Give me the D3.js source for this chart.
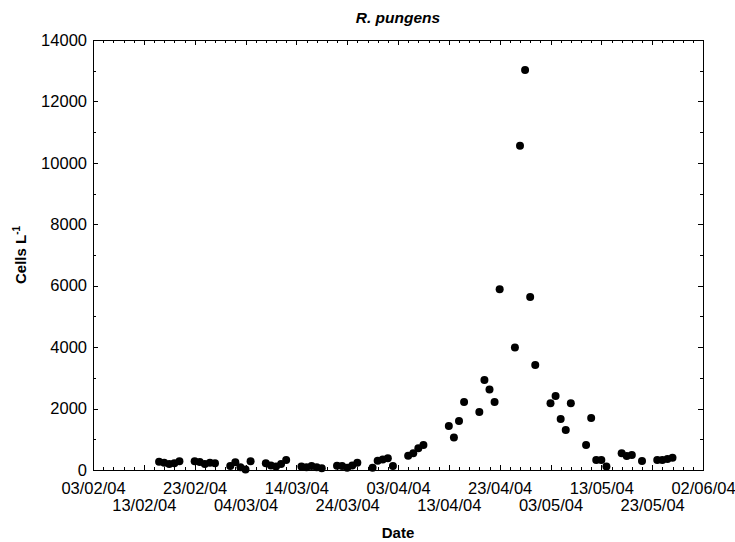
<!DOCTYPE html>
<html>
<head>
<meta charset="utf-8">
<script src="https://cdn.jsdelivr.net/npm/d3@7"></script>
<style>
  html, body { margin: 0; padding: 0; background: #fff; }
  svg { display: block; }
  text { font-family: "Liberation Sans", Arial, sans-serif; }
</style>
</head>
<body>
<svg id="chart" width="735" height="542"></svg>
<script>
// ---- data ----
const sampleDates = [
  "16/02/04","17/02/04","18/02/04","19/02/04","20/02/04",
  "23/02/04","24/02/04","25/02/04","26/02/04","27/02/04",
  "01/03/04","02/03/04","03/03/04","04/03/04","05/03/04",
  "08/03/04","09/03/04","10/03/04","11/03/04","12/03/04",
  "15/03/04","16/03/04","17/03/04","18/03/04","19/03/04",
  "22/03/04","23/03/04","24/03/04","25/03/04","26/03/04",
  "29/03/04","30/03/04","31/03/04","01/04/04","02/04/04",
  "05/04/04","06/04/04","07/04/04","08/04/04",
  "13/04/04","14/04/04","15/04/04","16/04/04",
  "19/04/04","20/04/04","21/04/04","22/04/04","23/04/04",
  "26/04/04","27/04/04","28/04/04","29/04/04","30/04/04",
  "03/05/04","04/05/04","05/05/04","06/05/04","07/05/04",
  "10/05/04","11/05/04","12/05/04","13/05/04","14/05/04",
  "17/05/04","18/05/04","19/05/04","21/05/04",
  "24/05/04","25/05/04","26/05/04","27/05/04"
];
const cellsPerL = [
  270, 240, 195, 220, 285,
  285, 260, 195, 240, 220,
  130, 250, 90, 20, 285,
  220, 150, 110, 195, 325,
  110, 90, 130, 90, 55,
  140, 130, 75, 150, 240,
  75, 305, 345, 380, 130,
  460, 545, 705, 815,
  1435, 1055, 1595, 2215,
  1890, 2930, 2625, 2215, 5885,
  3985, 10560, 13025, 5635, 3420,
  2170, 2410, 1660, 1300, 2170,
  815, 1695, 325, 325, 110,
  545, 455, 490, 295,
  325, 325, 360, 400
];
const xTickLabels = ["03/02/04","13/02/04","23/02/04","04/03/04","14/03/04","24/03/04",
  "03/04/04","13/04/04","23/04/04","03/05/04","13/05/04","23/05/04","02/06/04"];
const yTickValues = [0, 2000, 4000, 6000, 8000, 10000, 12000, 14000];
const titleText = "R. pungens";
const xTitle = "Date";
const yTitle = "Cells L";

// ---- layout ----
const parse = d3.utcParse("%d/%m/%y");
const fmt = d3.utcFormat("%d/%m/%y");
const W = 735, H = 542;
const m = { left: 93, right: 32, top: 40, bottom: 72 };
const iw = W - m.left - m.right, ih = H - m.top - m.bottom;
const tickFont = 16.5;

const svg = d3.select("#chart");
const g = svg.append("g").attr("transform", `translate(${m.left},${m.top})`);

const xDomain = [parse(xTickLabels[0]), parse(xTickLabels[xTickLabels.length - 1])];
const x = d3.scaleUtc().domain(xDomain).range([0, iw]);
const y = d3.scaleLinear().domain([0, 14000]).range([ih, 0]);

const xMajor = xTickLabels.map(parse);
const xMinor = d3.utcDay.range(xDomain[0], d3.utcDay.offset(xDomain[1], 1))
  .filter(d => d3.utcDay.count(xDomain[0], d) % 2 === 0);
const yMinor = d3.range(0, 14001, 1000);

// ticks (inward) on all four sides
function ticksAxis(axisGen, transform, vals, len) {
  const a = g.append("g").attr("transform", transform)
    .call(axisGen.tickValues(vals).tickSize(len).tickFormat(""));
  a.select(".domain").remove();
  a.selectAll("line").attr("stroke", "#000").attr("shape-rendering", "crispEdges");
  return a;
}
ticksAxis(d3.axisTop(x), `translate(0,${ih})`, xMinor, 3);
ticksAxis(d3.axisBottom(x), `translate(0,0)`, xMinor, 3);
ticksAxis(d3.axisRight(y), `translate(0,0)`, yMinor, 3);
ticksAxis(d3.axisLeft(y), `translate(${iw},0)`, yMinor, 3);
ticksAxis(d3.axisTop(x), `translate(0,${ih})`, xMajor, 5);
ticksAxis(d3.axisBottom(x), `translate(0,0)`, xMajor, 5);
ticksAxis(d3.axisRight(y), `translate(0,0)`, yTickValues, 5);
ticksAxis(d3.axisLeft(y), `translate(${iw},0)`, yTickValues, 5);

// frame
g.append("rect").attr("x", 0).attr("y", 0).attr("width", iw).attr("height", ih)
  .attr("fill", "none").attr("stroke", "#000").attr("stroke-width", 1)
  .attr("shape-rendering", "crispEdges");

// x tick labels (staggered)
const xl = g.append("g").attr("transform", `translate(0,${ih})`)
  .call(d3.axisBottom(x).tickValues(xMajor).tickSize(0).tickFormat(d => fmt(d)));
xl.select(".domain").remove();
xl.selectAll("text")
  .attr("y", (d, i) => i % 2 === 0 ? 24 : 41)
  .attr("dy", 0)
  .attr("font-size", tickFont)
  .attr("font-family", "'Liberation Sans', Arial, sans-serif")
  .attr("fill", "#000");

// y tick labels
const yl = g.append("g")
  .call(d3.axisLeft(y).tickValues(yTickValues).tickSize(0).tickPadding(6).tickFormat(d => d));
yl.select(".domain").remove();
yl.selectAll("text")
  .attr("font-size", tickFont)
  .attr("font-family", "'Liberation Sans', Arial, sans-serif")
  .attr("fill", "#000");

// points
g.append("g").selectAll("circle")
  .data(sampleDates.map((d, i) => ({ date: parse(d), v: cellsPerL[i] })))
  .join("circle")
  .attr("cx", d => x(d.date))
  .attr("cy", d => y(d.v))
  .attr("r", 4)
  .attr("fill", "#000");

// titles
svg.append("text").attr("x", m.left + iw / 2).attr("y", 23)
  .attr("text-anchor", "middle").attr("font-size", 15.5)
  .attr("font-weight", "bold").attr("font-style", "italic").text(titleText);

svg.append("text").attr("x", m.left + iw / 2).attr("y", 538)
  .attr("text-anchor", "middle").attr("font-size", 15)
  .attr("font-weight", "bold").text(xTitle);

const yt = svg.append("text")
  .attr("transform", `translate(26,${m.top + ih / 2}) rotate(-90)`)
  .attr("text-anchor", "middle").attr("font-size", 15).attr("font-weight", "bold");
yt.append("tspan").text(yTitle);
yt.append("tspan").attr("dy", -6).attr("font-size", 10).text("-1");
</script>
</body>
</html>
